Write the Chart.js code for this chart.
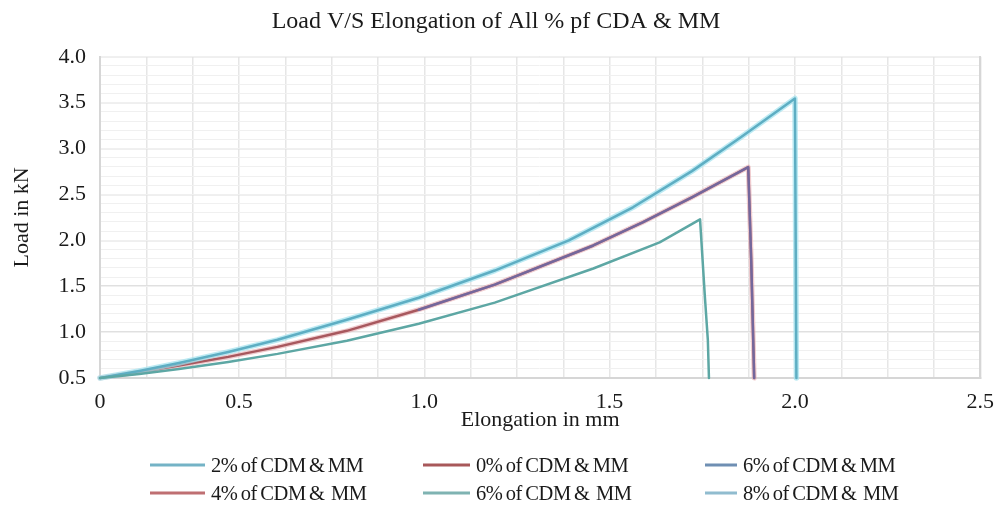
<!DOCTYPE html>
<html>
<head>
<meta charset="utf-8">
<script src="https://cdn.jsdelivr.net/npm/chart.js@4.4.0/dist/chart.umd.min.js"></script>
<style>
html,body{margin:0;padding:0;background:#fff;}
#wrap{position:relative;width:1005px;height:518px;overflow:hidden;}
#c{position:absolute;left:0;top:0;}
#legend{position:absolute;left:0;top:0;width:1005px;height:518px;pointer-events:none;font-family:"Liberation Serif","Times New Roman",serif;color:#1a1a1a;}
.item{position:absolute;display:flex;align-items:center;font-size:20.5px;white-space:pre;letter-spacing:-0.4px;word-spacing:-1.5px;transform:translateY(-50%);}
.sw{display:inline-block;height:3px;margin-right:6px;}
</style>
</head>
<body>
<div id="wrap"><canvas id="c" width="1005" height="518"></canvas><div id="legend"></div></div>
<script>
// ---- data ----
const chartTitle = 'Load V/S Elongation of All % pf CDA & MM';
const xTitle = 'Elongation in mm';
const yTitle = 'Load in kN';

const seriesNames = ['2% of CDM & MM', '0% of CDM & MM', '6% of CDM & MM',
                     '4% of CDM &  MM', '6% of CDM &  MM', '8% of CDM &  MM'];
const seriesColors = ['#74b3c6', '#a8585a', '#6f8fb3', '#bf6f72', '#7fb3b2', '#90bccf'];

// upper curve
const topX = [0.125, 0.231, 0.338, 0.471, 0.604, 0.791, 0.985, 1.190, 1.390, 1.563, 1.722, 1.855, 2.000, 2.004];
const topY = [0.50, 0.577, 0.664, 0.784, 0.916, 1.135, 1.375, 1.671, 1.999, 2.360, 2.754, 3.126, 3.546, 0.50];
// middle curve
const midX = [0.125, 0.231, 0.338, 0.471, 0.604, 0.791, 0.985, 1.190, 1.456, 1.589, 1.722, 1.874, 1.882, 1.890];
const midY = [0.50, 0.566, 0.637, 0.730, 0.839, 1.014, 1.244, 1.517, 1.944, 2.196, 2.469, 2.798, 1.791, 0.50];
// lower curve
const lowX = [0.125, 0.231, 0.338, 0.471, 0.604, 0.791, 0.985, 1.190, 1.456, 1.635, 1.744, 1.757, 1.765, 1.768];
const lowY = [0.50, 0.544, 0.598, 0.675, 0.763, 0.905, 1.091, 1.321, 1.693, 1.977, 2.229, 1.386, 0.916, 0.50];

// axis ticks
const xLabelValues = [0.125, 0.5, 1.0, 1.5, 2.0, 2.5];
const xLabelTexts  = ['0', '0.5', '1.0', '1.5', '2.0', '2.5'];
const xGridValues  = [0.125,0.25,0.375,0.5,0.625,0.75,0.875,1.0,1.125,1.25,1.375,1.5,1.625,1.75,1.875,2.0,2.125,2.25,2.375,2.5];
const yLabelValues = [0.5, 1.0, 1.5, 2.0, 2.5, 3.0, 3.5, 4.0];
const yLabelTexts  = ['0.5', '1.0', '1.5', '2.0', '2.5', '3.0', '3.5', '4.0'];
const yMinorValues = [0.5,0.6,0.7,0.8,0.9,1.0,1.1,1.2,1.3,1.4,1.5,1.6,1.7,1.8,1.9,2.0,2.1,2.2,2.3,2.4,2.5,2.6,2.7,2.8,2.9,3.0,3.1,3.2,3.3,3.4,3.5,3.6,3.7,3.8,3.9,4.0];

// ---- build ----
function pts(xs, ys) { return xs.map((x, i) => ({x: x, y: ys[i]})); }
const FONT = '"Liberation Serif", "Times New Roman", serif';

const datasets = [
  {label: seriesNames[0], data: pts(topX, topY), borderColor: '#5eaec3', borderWidth: 2.5, order: 2},
  {label: seriesNames[1], data: pts(midX, midY), borderColor: '#a8585e', borderWidth: 2.5, order: 4},
  {label: seriesNames[2], data: pts(midX.slice(6), midY.slice(6)), borderColor: 'rgba(95,110,180,0.72)', borderWidth: 2.5, order: 0},
  {label: seriesNames[3], data: pts(midX, midY), borderColor: 'rgba(230,170,175,0.6)', borderWidth: 5, order: 5},
  {label: seriesNames[4], data: pts(lowX, lowY), borderColor: '#5da7a4', borderWidth: 2.5, order: 1},
  {label: seriesNames[5], data: pts(topX, topY), borderColor: 'rgba(160,225,238,0.7)', borderWidth: 5.5, order: 3}
];
datasets.forEach(d => { d.pointRadius = 0; d.tension = 0; d.fill = false; d.clip = 6; d.borderJoinStyle = 'round'; d.borderCapStyle = 'round'; });

new Chart(document.getElementById('c'), {
  type: 'line',
  data: {datasets: datasets},
  options: {
    responsive: false,
    devicePixelRatio: 1,
    animation: false,
    layout: {padding: {left: 0, right: 13, top: 0, bottom: 85}},
    plugins: {
      legend: {display: false},
      tooltip: {enabled: false},
      title: {
        display: true, text: chartTitle, color: '#1a1a1a',
        font: {family: FONT, size: 24, weight: 'normal'},
        padding: {top: 7, bottom: 21}
      }
    },
    scales: {
      x: {
        type: 'linear', min: 0.125, max: 2.5,
        afterBuildTicks: s => { s.ticks = xGridValues.map(v => ({value: v})); },
        afterFit: s => { s.height = 55; },
        ticks: {
          autoSkip: false, maxRotation: 0, padding: 11, color: '#1a1a1a',
          font: {family: FONT, size: 22},
          callback: v => { const i = xLabelValues.findIndex(t => Math.abs(t - v) < 1e-6); return i >= 0 ? xLabelTexts[i] : ''; }
        },
        grid: {color: '#e6e6e6', lineWidth: 1.5, drawTicks: false},
        border: {display: true, color: '#d6d6d6', width: 2},
        title: {display: true, text: xTitle, color: '#1a1a1a', font: {family: FONT, size: 22}, padding: {top: 0, bottom: 0}}
      },
      y: {
        type: 'linear', min: 0.5, max: 4.0, position: 'left',
        afterBuildTicks: s => { s.ticks = yLabelValues.map(v => ({value: v})); },
        afterFit: s => { s.width = 100; },
        ticks: {
          autoSkip: false, padding: 14, color: '#1a1a1a',
          font: {family: FONT, size: 22},
          callback: v => { const i = yLabelValues.findIndex(t => Math.abs(t - v) < 1e-6); return i >= 0 ? yLabelTexts[i] : ''; }
        },
        grid: {color: '#e0e0e0', lineWidth: 1.5, drawTicks: false},
        border: {display: true, color: '#d6d6d6', width: 2},
        title: {display: true, text: yTitle, color: '#1a1a1a', font: {family: FONT, size: 22}, padding: {top: 9, bottom: 0}}
      },
      y2: {
        type: 'linear', min: 0.5, max: 4.0, position: 'right',
        afterBuildTicks: s => { s.ticks = yMinorValues.map(v => ({value: v})); },
        afterFit: s => { s.width = 0; },
        ticks: {display: false},
        grid: {color: '#f0f0f0', lineWidth: 1, drawTicks: false},
        border: {display: true, color: '#d6d6d6', width: 2}
      }
    }
  }
});

// ---- legend (HTML text) ----
const legendRows = [465, 493];
const legendCols = [{x: 150, w: 55}, {x: 423, w: 47}, {x: 705, w: 32}];
const legendEl = document.getElementById('legend');
seriesNames.forEach((name, i) => {
  const r = Math.floor(i / 3), c = i % 3;
  const it = document.createElement('div');
  it.className = 'item';
  it.style.left = legendCols[c].x + 'px';
  it.style.top = legendRows[r] + 'px';
  const sw = document.createElement('span');
  sw.className = 'sw';
  sw.style.width = legendCols[c].w + 'px';
  sw.style.background = seriesColors[i];
  const tx = document.createElement('span');
  tx.textContent = name;
  it.appendChild(sw); it.appendChild(tx);
  legendEl.appendChild(it);
});
</script>
</body>
</html>
